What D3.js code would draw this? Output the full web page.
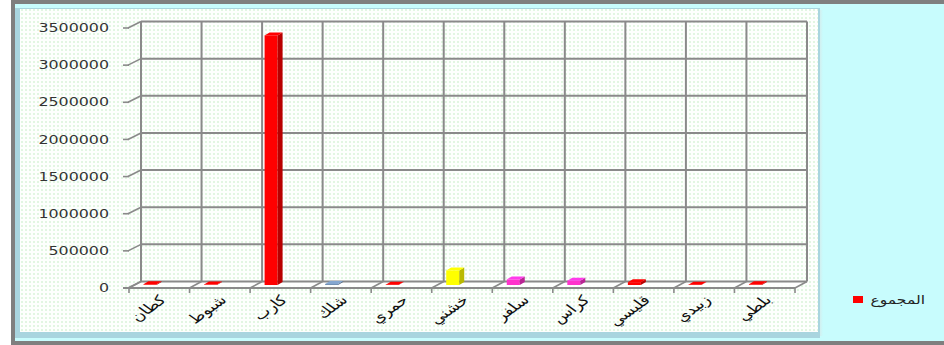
<!DOCTYPE html>
<html>
<head>
<meta charset="utf-8">
<script src="https://cdn.jsdelivr.net/npm/d3@7"></script>
<style>
  html, body { margin: 0; padding: 0; background: #ffffff; }
  svg { display: block; }
  text { font-family: "DejaVu Sans", Verdana, sans-serif; }
</style>
</head>
<body>
<svg id="chart" width="944" height="345"></svg>
<script>
// Fish species (left to right) and their totals
const categories = ["كطان", "شبوط", "كارب", "شلك", "حمري", "خشني", "سلفر", "كراس", "قليسي", "زبيدي", "بلطي"];
const totals = [9000, 6000, 3360000, 14000, 5000, 195000, 75000, 58000, 38000, 4000, 9000];
const barColors = ["#ff0000", "#ff0000", "#ff0000", "#7391b4", "#ff0000", "#ffff00", "#ff33cc", "#ff33cc", "#ff0000", "#ff0000", "#ff0000"];
const yTicks = [0, 500000, 1000000, 1500000, 2000000, 2500000, 3000000, 3500000];
const seriesName = "المجموع";
const legendColor = "#ff0000";

const svg = d3.select("#chart");
const defs = svg.append("defs");

// dotted green fill of the chart panel
const pat = defs.append("pattern")
  .attr("id", "dots").attr("width", 4).attr("height", 4)
  .attr("patternUnits", "userSpaceOnUse");
pat.append("rect").attr("width", 4).attr("height", 4).attr("fill", "#fdfffd");
pat.append("rect").attr("x", 1).attr("y", 1).attr("width", 2).attr("height", 2).attr("fill", "#e2f6e2");

const shade = defs.append("linearGradient").attr("id", "rshade");
shade.append("stop").attr("offset", "0").attr("stop-color", "#d8e6e6");
shade.append("stop").attr("offset", "1").attr("stop-color", "#c8fcfd");

// outer frame
svg.append("rect").attr("x", 13).attr("y", 2).attr("width", 960).attr("height", 341)
  .attr("fill", "#c8fcfd").attr("stroke", "#7f7f7f").attr("stroke-width", 4);

// panel with its edge shadow
svg.append("rect").attr("x", 818).attr("y", 10).attr("width", 5).attr("height", 326).attr("fill", "url(#rshade)");
svg.append("rect").attr("x", 15).attr("y", 8).attr("width", 805).attr("height", 330).attr("fill", "#a9d5df");
svg.append("rect").attr("x", 20).attr("y", 9).attr("width", 798).attr("height", 323).attr("fill", "url(#dots)");

// scales on the front plane; the back wall sits at a fixed depth offset
const x = d3.scaleBand().domain(categories).range([129, 795]).padding(0);
const y = d3.scaleLinear().domain([0, 3500000]).range([288, 28]);
const DX = 12, DY = -6.5;
const lineColor = "#8a8a8a";
const bw = x.bandwidth();

const g = svg.append("g");

// floor
const x0 = x.range()[0], x1 = x.range()[1];
g.append("polygon")
  .attr("points", [[x0, y(0)], [x1, y(0)], [x1 + DX, y(0) + DY], [x0 + DX, y(0) + DY]].map(p => p.join(",")).join(" "))
  .attr("fill", "#ffffff").attr("fill-opacity", 0.85);

// back wall gridlines
g.selectAll(".hgrid").data(yTicks).join("line")
  .attr("x1", x0 + DX).attr("x2", x1 + DX)
  .attr("y1", d => y(d) + DY).attr("y2", d => y(d) + DY)
  .attr("stroke", lineColor).attr("stroke-width", 2);

// left wall diagonals and value ticks
g.selectAll(".ldiag").data(yTicks).join("line")
  .attr("x1", x0 - 1).attr("x2", x0 + DX)
  .attr("y1", d => y(d)).attr("y2", d => y(d) + DY)
  .attr("stroke", lineColor).attr("stroke-width", 1.6);
g.selectAll(".ytick").data(yTicks).join("line")
  .attr("x1", x0 - 6).attr("x2", x0)
  .attr("y1", d => y(d)).attr("y2", d => y(d))
  .attr("stroke", lineColor).attr("stroke-width", 1.6);

// category boundaries
const bounds = categories.map(c => x(c)).concat([x1]);
g.selectAll(".vgrid").data(bounds).join("line")
  .attr("x1", d => d + DX).attr("x2", d => d + DX)
  .attr("y1", y(3500000) + DY).attr("y2", y(0) + DY)
  .attr("stroke", lineColor).attr("stroke-width", 2);
g.selectAll(".fdiag").data(bounds).join("line")
  .attr("x1", d => d).attr("x2", d => d + DX)
  .attr("y1", y(0)).attr("y2", y(0) + DY)
  .attr("stroke", lineColor).attr("stroke-width", 1.6);
g.selectAll(".xtick").data(bounds).join("line")
  .attr("x1", d => d).attr("x2", d => d)
  .attr("y1", y(0)).attr("y2", y(0) + 5)
  .attr("stroke", lineColor).attr("stroke-width", 1.6);
g.append("line")
  .attr("x1", x0 - 6).attr("x2", x1).attr("y1", y(0)).attr("y2", y(0))
  .attr("stroke", lineColor).attr("stroke-width", 2);

// 3D columns, placed part-way into the depth
const barOff = 14.5, barW = 13, BDX = 5, BDY = -3, baseShift = -3;
const bars = g.selectAll(".bar").data(categories.map((c, i) => ({ c, v: totals[i], col: barColors[i] })))
  .join("g").attr("class", "bar");
bars.each(function (d) {
  const sel = d3.select(this);
  const bx = x(d.c) + barOff;
  const yb = y(0) + baseShift;
  const yt = y(d.v) + baseShift;
  const base = d3.color(d.col);
  sel.append("rect").attr("x", bx).attr("y", yt).attr("width", barW).attr("height", Math.max(0, yb - yt))
    .attr("fill", base.formatHex());
  sel.append("polygon")
    .attr("points", [[bx + barW, yt], [bx + barW + BDX, yt + BDY], [bx + barW + BDX, yb + BDY], [bx + barW, yb]].map(p => p.join(",")).join(" "))
    .attr("fill", base.darker(0.9).formatHex());
  sel.append("polygon")
    .attr("points", [[bx, yt], [bx + BDX, yt + BDY], [bx + barW + BDX, yt + BDY], [bx + barW, yt]].map(p => p.join(",")).join(" "))
    .attr("fill", base.brighter(0.4).formatHex());
});

// value axis labels (wide-set type)
g.selectAll(".ylab").data(yTicks).join("text")
  .attr("transform", d => `translate(109,${y(d)}) scale(1.38,1)`)
  .attr("text-anchor", "end").attr("dy", "0.36em")
  .attr("font-size", 11.5).attr("fill", "#333333")
  .text(d => d3.format("d")(d));

// category labels, slanted up to the right, same wide setting
g.selectAll(".xlab").data(categories).join("text")
  .attr("class", "xlab")
  .attr("transform", d => `translate(${x(d) + bw / 2 + 4},${y(0) + 10}) scale(1.38,1) rotate(-45)`)
  .attr("text-anchor", "end").attr("dy", "0.3em")
  .attr("font-size", 13).attr("fill", "#111111")
  .text(d => d);

// legend
const lg = svg.append("g");
lg.append("rect").attr("x", 853).attr("y", 296).attr("width", 10).attr("height", 7).attr("fill", legendColor);
lg.append("text")
  .attr("transform", "translate(925,300) scale(1.3,1)")
  .attr("text-anchor", "end").attr("dy", "0.35em")
  .attr("font-size", 12).attr("fill", "#222222")
  .text(seriesName);
</script>
</body>
</html>
